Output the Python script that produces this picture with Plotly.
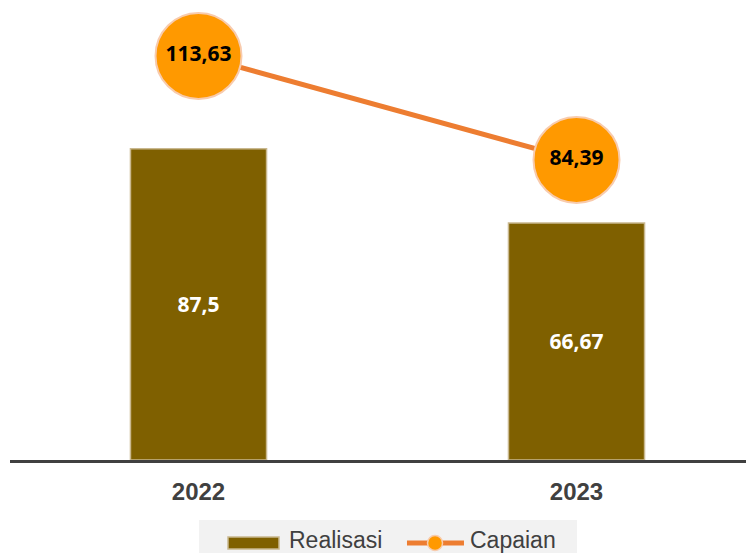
import plotly.graph_objects as go

years = ["2022", "2023"]
realisasi = [87.5, 66.67]
capaian = [113.63, 84.39]
legend_labels = ["Realisasi", "Capaian"]

def fmt(v):
    return f"{v:g}".replace(".", ",")

BAR_COLOR = "#7F6000"
BAR_EDGE = "#C9B88F"
LINE_COLOR = "#ED7D31"
MARK_COLOR = "#FF9900"
MARK_EDGE = "#F8CBAD"

fig = go.Figure()
fig.add_trace(go.Bar(
    x=years, y=realisasi, name=legend_labels[0],
    width=0.36,
    marker=dict(color=BAR_COLOR, line=dict(color=BAR_EDGE, width=1.5)),
    text=[fmt(v) for v in realisasi],
    textposition="inside", insidetextanchor="middle",
    textfont=dict(family="Noto Sans", size=21, color="white", weight="bold"),
    constraintext="none",
    showlegend=False,
))
fig.add_trace(go.Scatter(
    x=years, y=capaian, name=legend_labels[1],
    mode="lines+markers+text",
    line=dict(color=LINE_COLOR, width=5),
    marker=dict(size=86, color=MARK_COLOR, line=dict(color=MARK_EDGE, width=2)),
    text=[fmt(v) for v in capaian],
    textposition="middle center",
    textfont=dict(family="Noto Sans", size=21, color="black", weight="bold"),
    cliponaxis=False,
    showlegend=False,
))

# custom legend (paper coordinates)
LY = -0.1836
shapes = [
    dict(type="rect", xref="paper", yref="paper", x0=0.2513, x1=0.754, y0=-0.1327, y1=-0.26,
         fillcolor="#F2F2F2", line=dict(width=0), layer="below"),
    dict(type="rect", xref="paper", yref="paper", x0=0.2899, x1=0.3577, y0=-0.1704, y1=-0.1969,
         fillcolor=BAR_COLOR, line=dict(color=BAR_EDGE, width=1.5)),
    dict(type="line", xref="paper", yref="paper", x0=0.5279, x1=0.6037, y0=LY, y1=LY,
         line=dict(color=LINE_COLOR, width=5)),
    dict(type="circle", xref="paper", yref="paper", x0=0.5652 - 0.0100, x1=0.5652 + 0.0100,
         y0=LY - 0.0166, y1=LY + 0.0166,
         fillcolor=MARK_COLOR, line=dict(color=MARK_EDGE, width=1.5)),
]
annotations = [
    dict(text=legend_labels[0], xref="paper", yref="paper", x=0.3684, y=-0.177,
         xanchor="left", yanchor="middle", showarrow=False,
         font=dict(family="Liberation Sans", size=23, color="#404040")),
    dict(text=legend_labels[1], xref="paper", yref="paper", x=0.609, y=-0.177,
         xanchor="left", yanchor="middle", showarrow=False,
         font=dict(family="Liberation Sans", size=23, color="#404040")),
]

fig.update_layout(
    width=754, height=553,
    margin=dict(l=2, r=0, t=0, b=101),
    paper_bgcolor="white", plot_bgcolor="white",
    xaxis=dict(
        type="category", range=[-0.4987, 1.4907],
        showline=True, linecolor="#404040", linewidth=3,
        showgrid=False, ticks="",
        tickfont=dict(family="Liberation Sans", size=24, color="#404040", weight="bold"),
        ticklabelstandoff=8,
    ),
    yaxis=dict(range=[0, 127.1], visible=False, showgrid=False),
    showlegend=False,
    shapes=shapes,
    annotations=annotations,
)

fig.write_html("out.html")
